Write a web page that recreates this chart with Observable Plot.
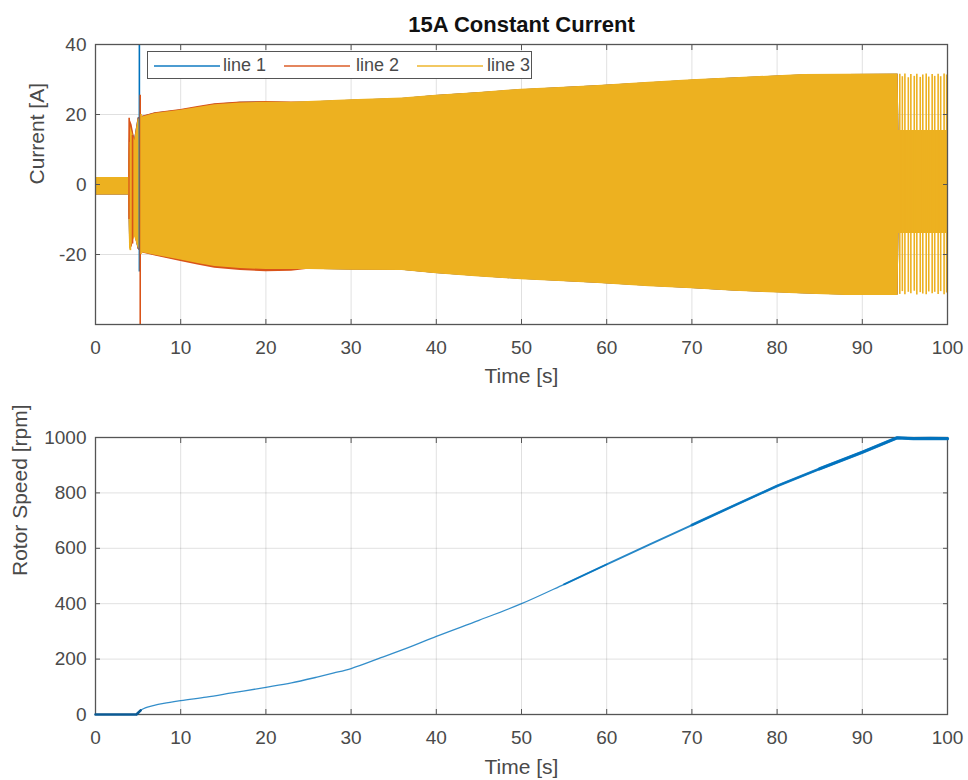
<!DOCTYPE html>
<html>
<head>
<meta charset="utf-8">
<script src="https://cdn.jsdelivr.net/npm/d3@7"></script>
<script src="https://cdn.jsdelivr.net/npm/@observablehq/plot@0.6"></script>
<style>
  html, body { margin: 0; padding: 0; background: white; }
  #wrap { position: relative; width: 968px; height: 780px; font-family: "Liberation Sans", Arial, Helvetica, sans-serif; }
  #wrap svg { display: block; }
  .legend { position: absolute; left: 147px; top: 51px; width: 385px; height: 28px; border: 1.3px solid #555; background: white; box-sizing: border-box; }
  .legend .s { position: absolute; top: 13px; height: 0; border-top: 2px solid; width: 66px; opacity: 0.7; }
  .legend .t { position: absolute; top: 3px; font-size: 18px; color: #4a4a4a; line-height: 20px; }
</style>
</head>
<body>
<div id="wrap"></div>
<script>
// ---------- data ----------
const title = "15A Constant Current";
const xTicks = [0, 10, 20, 30, 40, 50, 60, 70, 80, 90, 100];
const yTicksCurrent = [-20, 0, 20, 40];
const yTicksSpeed = [0, 200, 400, 600, 800, 1000];
const seriesNames = ["line 1", "line 2", "line 3"];
const seriesColors = ["#0072BD", "#D95319", "#EDB120"];

// envelope of the oscillating phase currents (time in s, current in A)
const envT   = [0, 3.9, 4.0, 4.3, 4.6, 5.0, 5.5, 7, 10, 12, 14, 17, 20, 23, 25, 30, 36, 40, 45, 50, 55, 59, 65, 70, 75, 83, 88, 94.2, 94.3, 100];
const env1Hi = [2.0, 2.0, 15, 16, 13, 19, 19.4, 20.4, 21.3, 22.1, 22.9, 23.5, 23.6, 23.4, 23.6, 24.1, 24.6, 25.4, 26.2, 27.1, 27.7, 28.2, 29.1, 29.8, 30.4, 31.3, 31.4, 31.5, 15.4, 15.4];
const env1Lo = [-3.0, -3.0, -16, -16, -14, -18.5, -19.4, -20.3, -21.8, -22.7, -23.5, -24.2, -24.5, -24.2, -24.2, -24.4, -24.5, -25.4, -26.3, -27.1, -27.7, -28.2, -29.1, -29.7, -30.4, -31.2, -31.6, -31.6, -14, -14];
const env2Hi = [2.0, 2.0, 18.9, 17, 13, 19, 19.5, 20.5, 21.4, 22.3, 23.1, 23.6, 23.7, 23.6, 23.6, 24.1, 24.6, 25.4, 26.2, 27.1, 27.7, 28.2, 29.1, 29.8, 30.4, 31.3, 31.4, 31.5, 15.4, 15.4];
const env2Lo = [-3.0, -3.0, -17, -18, -14, -18.5, -19.6, -20.4, -22.0, -23.0, -23.9, -24.6, -24.9, -24.8, -24.2, -24.4, -24.5, -25.4, -26.3, -27.1, -27.7, -28.2, -29.1, -29.7, -30.4, -31.2, -31.6, -31.6, -14, -14];
const env3Hi = [2.0, 2.0, 17.5, 15, 12.6, 18.5, 19.3, 20.3, 21.2, 22.0, 22.8, 23.3, 23.5, 23.5, 23.7, 24.2, 24.7, 25.5, 26.3, 27.2, 27.8, 28.3, 29.2, 29.9, 30.5, 31.4, 31.5, 31.6, 15.4, 15.4];
const env3Lo = [-3.0, -3.0, -18.9, -17, -15, -18, -19.5, -20.2, -21.6, -22.6, -23.4, -24.0, -24.3, -24.3, -24.3, -24.5, -24.6, -25.5, -26.4, -27.2, -27.8, -28.3, -29.2, -29.8, -30.5, -31.3, -31.7, -31.7, -14, -14];

// isolated transients around start-up
const spikeT    = [3.95, 4.1, 4.35, 5.15, 5.25, 5.35];
const spikeLo   = [-10, -18.9, -17, -25, -40, -20];
const spikeHi   = [18.9, 12, 14, 45, 25.5, 20];
const spikeLine = ["line 2", "line 3", "line 2", "line 1", "line 2", "line 3"];

// separate current peaks after the speed limit is reached
const tailT  = [94.4, 94.7, 95.0, 95.4, 95.7, 96.1, 96.4, 96.8, 97.1, 97.5, 97.8, 98.2, 98.5, 98.9, 99.2, 99.6, 99.9];
const tailHi = [31.5, 30.8, 31.6, 30.5, 31.4, 30.9, 31.5, 30.6, 31.3, 31.6, 30.7, 31.4, 30.9, 31.5, 30.8, 31.6, 31.3];
const tailLo = [-31.4, -30.6, -31.5, -30.8, -31.2, -30.5, -31.6, -30.9, -31.3, -31.5, -30.7, -31.2, -30.8, -31.4, -30.6, -31.5, -31.0];

// rotor speed (time in s, speed in rpm)
const speedT = [0, 4.8, 5.3, 6, 7, 8, 10, 13, 16, 20, 23, 26, 28, 30, 33.5, 37, 40, 45, 50, 55, 60, 65, 70, 75, 80, 85, 90, 94.1, 96, 98, 100];
const speed  = [0, 0, 15, 26, 34, 40, 50, 63, 78, 98, 114, 135, 150, 166, 205, 245, 282, 340, 400, 470, 542, 613, 684, 755, 825, 887, 947, 999, 996, 997, 996];

// ---------- build tables ----------
const envelopes = [[env1Lo, env1Hi], [env2Lo, env2Hi], [env3Lo, env3Hi]].map(([lo, hi], k) =>
  envT.map((t, i) => ({t, lo: lo[i], hi: hi[i], series: seriesNames[k]})));
const spikes = spikeT.map((t, i) => ({t, lo: spikeLo[i], hi: spikeHi[i], series: spikeLine[i]}));
const tail = tailT.map((t, i) => ({t, lo: tailLo[i], hi: tailHi[i]}));
const speedData = speedT.map((t, i) => ({t, v: speed[i]}));

const font = '"Liberation Sans", Arial, Helvetica, sans-serif';
const fmt = d => String(d);
const colorOf = s => seriesColors[seriesNames.indexOf(s)];

function axes(yTicks) {
  return [
    Plot.frame({stroke: "#555", strokeWidth: 1.3}),
    Plot.axisX(xTicks, {anchor: "bottom", tickSize: -5, tickPadding: 21, tickFormat: fmt, label: null, stroke: "#555"}),
    Plot.axisX(xTicks, {anchor: "top", tickSize: -5, tickFormat: () => "", label: null, stroke: "#555"}),
    Plot.axisY(yTicks, {anchor: "left", tickSize: -5, tickPadding: 14, tickFormat: fmt, label: null, stroke: "#555"}),
    Plot.axisY(yTicks, {anchor: "right", tickSize: -5, tickFormat: () => "", label: null, stroke: "#555"})
  ];
}

const topChart = Plot.plot({
  width: 968, height: 395,
  marginTop: 44, marginBottom: 71, marginLeft: 95, marginRight: 21,
  style: {fontFamily: font, fontSize: "19px", color: "#4a4a4a", background: "white"},
  x: {domain: [0, 100]},
  y: {domain: [-40, 40]},
  marks: [
    Plot.gridX(xTicks, {stroke: "#000", strokeOpacity: 0.12}),
    Plot.gridY(yTicksCurrent, {stroke: "#000", strokeOpacity: 0.12}),
    ...envelopes.map((rows, k) => Plot.areaY(rows, {x: "t", y1: "lo", y2: "hi", fill: seriesColors[k], clip: true})),
    Plot.ruleX(spikes, {x: "t", y1: "lo", y2: "hi", stroke: d => colorOf(d.series), strokeWidth: 1.6, clip: true}),
    Plot.ruleX(tail, {x: "t", y1: "lo", y2: "hi", stroke: seriesColors[2], strokeWidth: 1.6, clip: true}),
    ...axes(yTicksCurrent),
    Plot.text([title], {frameAnchor: "top", dy: -28, fontWeight: "bold", fontSize: 22, fill: "#111"}),
    Plot.text(["Time [s]"], {frameAnchor: "bottom", dy: 58, fontSize: 21, fill: "#4a4a4a"}),
    Plot.text(["Current [A]"], {frameAnchor: "left", dx: -58, rotate: -90, fontSize: 21, fill: "#4a4a4a"})
  ]
});

const bottomChart = Plot.plot({
  width: 968, height: 385,
  marginTop: 42, marginBottom: 66, marginLeft: 95, marginRight: 21,
  style: {fontFamily: font, fontSize: "19px", color: "#4a4a4a", background: "white"},
  x: {domain: [0, 100]},
  y: {domain: [0, 1000]},
  marks: [
    Plot.gridX(xTicks, {stroke: "#000", strokeOpacity: 0.12}),
    Plot.gridY(yTicksSpeed, {stroke: "#000", strokeOpacity: 0.12}),
    ...axes(yTicksSpeed),
    Plot.line(speedData.filter(d => d.t >= 4.8 && d.t <= 60), {x: "t", y: "v", stroke: "#0072BD", strokeWidth: 1.3, strokeOpacity: 0.8, curve: "monotone-x"}),
    Plot.line(speedData.filter(d => d.t >= 55), {x: "t", y: "v", stroke: "#0072BD", strokeWidth: 1.9, strokeOpacity: 0.85}),
    Plot.line(speedData.filter(d => d.t >= 70), {x: "t", y: "v", stroke: "#0072BD", strokeWidth: 2.6, strokeOpacity: 0.85}),
    Plot.line(speedData.filter(d => d.t >= 82), {x: "t", y: "v", stroke: "#0072BD", strokeWidth: 3.3, strokeOpacity: 0.85}),
    Plot.line(speedData.filter(d => d.t <= 5.3), {x: "t", y: "v", stroke: "#0b5a94", strokeWidth: 2.6}),
    Plot.text(["Time [s]"], {frameAnchor: "bottom", dy: 59, fontSize: 21, fill: "#4a4a4a"}),
    Plot.text(["Rotor Speed [rpm]"], {frameAnchor: "left", dx: -75, rotate: -90, fontSize: 21, fill: "#4a4a4a"})
  ]
});

const wrap = document.getElementById("wrap");
wrap.appendChild(topChart);
wrap.appendChild(bottomChart);

// legend (HTML overlay on the top axes)
const legend = document.createElement("div");
legend.className = "legend";
const sampleX = [6, 136, 269];
const textX = [75, 208, 339];
seriesNames.forEach((name, k) => {
  const s = document.createElement("div");
  s.className = "s";
  s.style.left = sampleX[k] + "px";
  s.style.borderTopColor = seriesColors[k];
  legend.appendChild(s);
  const t = document.createElement("div");
  t.className = "t";
  t.style.left = textX[k] + "px";
  t.textContent = name;
  legend.appendChild(t);
});
wrap.appendChild(legend);
</script>
</body>
</html>
